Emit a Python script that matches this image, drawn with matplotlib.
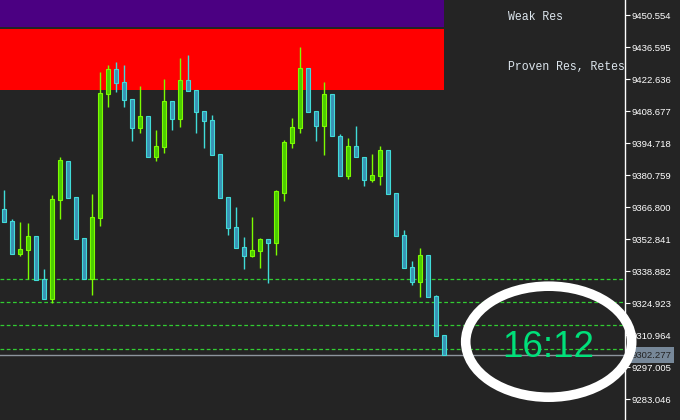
import matplotlib
matplotlib.use("Agg")
import matplotlib.pyplot as plt
from matplotlib.patches import Ellipse
import numpy as np

plt.rcParams['font.family'] = ['Liberation Sans', 'DejaVu Sans']

# candles (oldest -> newest)
opens = [9365.9, 9360.7, 9346.6, 9348.3, 9354.1, 9335.4, 9326.9, 9370.1, 9386.9, 9371.2,
         9353.3, 9335.7, 9362.3, 9416.4, 9427.0, 9421.3, 9413.9, 9401.5, 9406.5, 9388.9,
         9393.2, 9413.0, 9405.4, 9422.2, 9417.8, 9408.8, 9404.7, 9389.9, 9371.2, 9358.1,
         9349.3, 9345.7, 9347.9, 9352.8, 9351.4, 9373.2, 9395.0, 9401.5, 9427.4, 9408.7,
         9402.4, 9416.1, 9397.8, 9380.6, 9393.4, 9388.6, 9378.8, 9380.6, 9391.7, 9372.9,
         9354.6, 9340.6, 9334.3, 9345.9, 9328.0, 9311.0]
highs = [9374.3, 9361.6, 9360.4, 9359.9, 9354.1, 9339.9, 9372.2, 9388.7, 9386.9, 9371.2,
         9353.3, 9372.6, 9425.8, 9428.9, 9430.2, 9428.9, 9413.9, 9419.7, 9406.5, 9400.5,
         9422.8, 9413.0, 9431.9, 9433.2, 9417.8, 9408.8, 9407.1, 9389.9, 9371.2, 9366.9,
         9353.8, 9362.6, 9353.4, 9352.8, 9374.3, 9396.2, 9405.8, 9436.7, 9427.4, 9408.7,
         9421.5, 9416.1, 9398.8, 9397.0, 9402.3, 9388.6, 9390.0, 9393.5, 9391.7, 9372.9,
         9356.9, 9343.4, 9349.0, 9345.9, 9328.5, 9311.0]
lows = [9360.5, 9346.6, 9345.6, 9335.4, 9335.2, 9326.9, 9325.2, 9361.7, 9371.0, 9353.1,
        9335.7, 9328.5, 9358.8, 9410.7, 9417.2, 9410.7, 9395.8, 9399.3, 9388.9, 9387.1,
        9390.6, 9400.6, 9401.8, 9417.7, 9399.3, 9392.8, 9389.7, 9371.0, 9354.7, 9349.2,
        9339.9, 9345.2, 9340.3, 9333.8, 9346.0, 9369.5, 9392.7, 9399.2, 9408.5, 9395.8,
        9389.6, 9397.7, 9380.6, 9379.3, 9388.6, 9376.2, 9378.0, 9376.7, 9372.7, 9354.4,
        9340.4, 9332.9, 9327.8, 9327.8, 9310.8, 9302.277]
closes = [9360.5, 9346.6, 9348.6, 9354.1, 9335.2, 9326.9, 9370.3, 9387.3, 9371.0, 9353.1,
          9335.7, 9362.4, 9416.5, 9427.0, 9421.1, 9413.7, 9401.5, 9406.5, 9388.9, 9393.4,
          9413.0, 9405.4, 9422.2, 9417.7, 9408.5, 9404.6, 9389.7, 9371.0, 9357.9, 9349.2,
          9345.7, 9348.0, 9352.8, 9351.4, 9373.8, 9395.2, 9401.7, 9427.4, 9408.5, 9402.4,
          9416.1, 9397.7, 9380.6, 9393.4, 9388.6, 9378.8, 9380.8, 9391.7, 9372.7, 9354.4,
          9340.4, 9334.3, 9345.9, 9327.8, 9310.8, 9302.277]

price_ticks = [9450.554, 9436.595, 9422.636, 9408.677, 9394.718, 9380.759, 9366.800,
               9352.841, 9338.882, 9324.923, 9310.964, 9297.005, 9283.046]
levels = [9335.4, 9325.4, 9315.3, 9304.9]
current_price = 9302.277
weak_zone = (9445.5, 9462.0)
proven_zone = (9418.0, 9444.6)
zone_end = 55
clock = "16:12"

BG = '#242424'
BULL_EDGE, BULL_FILL = '#7cfc00', '#4ccc00'
BEAR_EDGE, BEAR_FILL = '#40dcd8', '#3a92b4'

o = np.array(opens); h = np.array(highs); l = np.array(lows); c = np.array(closes)
x = np.arange(len(o))
bull = c >= o

fig = plt.figure(figsize=(6.8, 4.2), dpi=100, facecolor=BG)
ax = fig.add_axes([0, 0, 625 / 680, 1])
ax.set_facecolor(BG)

# S/R zones
ax.fill_between([-2, zone_end], weak_zone[0], weak_zone[1], color='#4b0082', lw=0, zorder=1)
ax.fill_between([-2, zone_end], proven_zone[0], proven_zone[1], color='#ff0000', lw=0, zorder=1)

for lv in levels:
    ax.axhline(lv, color='#32cd32', lw=0.9, ls=(0, (3, 2)), zorder=2)
ax.axhline(current_price, color='#8c949c', lw=1, zorder=2.5)

# wicks + bodies
ax.vlines(x[bull], l[bull], h[bull], color=BULL_EDGE, lw=1, zorder=3)
ax.vlines(x[~bull], l[~bull], h[~bull], color=BEAR_EDGE, lw=1, zorder=3)
ax.bar(x[bull], c[bull] - o[bull], bottom=o[bull], width=0.5,
       color=BULL_FILL, edgecolor=BULL_EDGE, lw=0.8, zorder=4)
ax.bar(x[~bull], o[~bull] - c[~bull], bottom=c[~bull], width=0.5,
       color=BEAR_FILL, edgecolor=BEAR_EDGE, lw=0.8, zorder=4)

ax.text(63, 9449.9, "Weak Res", family='Liberation Mono', fontsize=8.3,
        color='#dde6ee', va='center', clip_on=True, zorder=5)
ax.text(63, 9428.1, "Proven Res, Retested", family='Liberation Mono', fontsize=8.3,
        color='#dde6ee', va='center', clip_on=True, zorder=5)

ax.set_xlim(-0.54, 77.59)
ax.set_ylim(9274.02, 9457.23)
ax.set_xticks([])
ax.set_yticks(price_ticks)
ax.set_yticklabels([f"{p:.3f}" for p in price_ticks])
ax.yaxis.tick_right()
ax.tick_params(axis='y', colors='white', length=3.5, width=0.8, pad=1.5, labelsize=6.8)
for s in ['left', 'top', 'bottom']:
    ax.spines[s].set_visible(False)
ax.spines['right'].set_color('white')
ax.spines['right'].set_linewidth(1)

# current price tag
ax.text(1.0096, current_price, f"{current_price:.3f}", transform=ax.get_yaxis_transform(),
        fontsize=6.8, color='#222222', va='center', ha='left', clip_on=False, zorder=6,
        bbox=dict(boxstyle='square,pad=0.35', fc='#778899', ec='none'))

# clock overlay
fig.add_artist(Ellipse((548.7 / 680, 1 - 341.7 / 420), 166 / 680, 111 / 420,
                       transform=fig.transFigure, fill=False, ec='white', lw=6.9))
fig.text(548 / 680, 1 - 357.3 / 420, clock, ha='center', va='baseline',
         fontsize=26.5, color='#00e07a')

fig.savefig("out.png", dpi=100, facecolor=BG)
